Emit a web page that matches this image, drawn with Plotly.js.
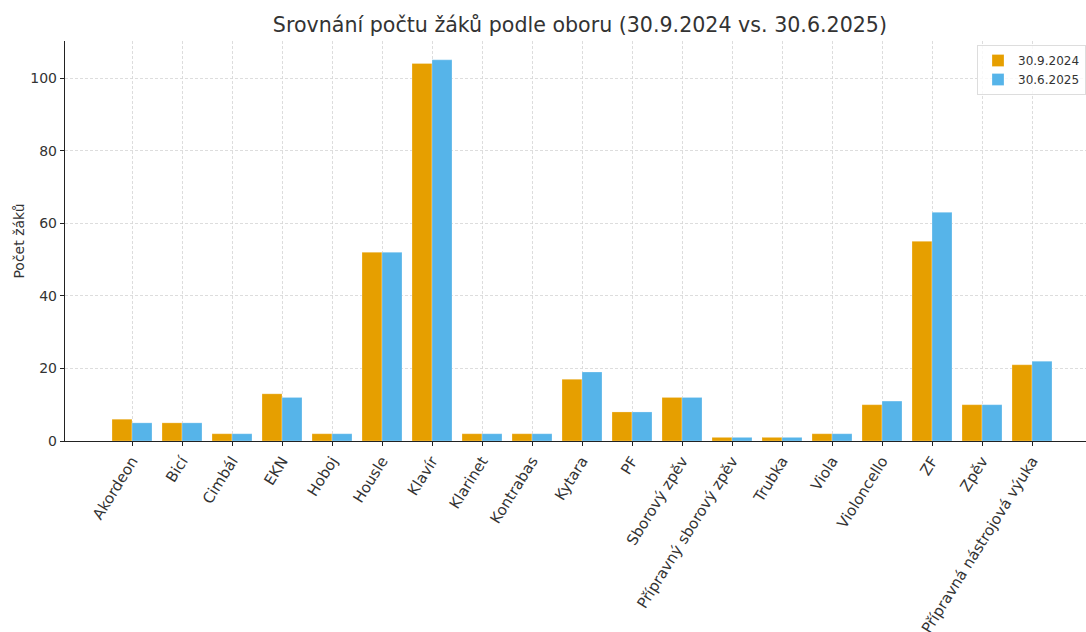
<!DOCTYPE html>
<html>
<head>
<meta charset="utf-8">
<script src="https://cdn.plot.ly/plotly-3.0.1.min.js"></script>
<style>html,body{margin:0;padding:0;background:#fff;}#chart{width:1086px;height:632px;}</style>
</head>
<body>
<div id="chart"></div>
<script>
const categories = ["Akordeon","Bicí","Cimbál","EKN","Hoboj","Housle","Klavír","Klarinet","Kontrabas","Kytara","PF","Sborový zpěv","Přípravný sborový zpěv","Trubka","Viola","Violoncello","ZF","Zpěv","Přípravná nástrojová výuka"];
const values2024 = [6,5,2,13,2,52,104,2,2,17,8,12,1,1,2,10,55,10,21];
const values2025 = [5,5,2,12,2,52,105,2,2,19,8,12,1,1,2,11,63,10,22];
const seriesNames = ["30.9.2024","30.6.2025"];
const yTicks = [0,20,40,60,80,100];

const idx = categories.map((_, i) => i);
const font = "DejaVu Sans, sans-serif";

const traces = [
  {type:"bar", x: idx, y: values2024, name: seriesNames[0], marker:{color:"#E69F00", line:{color:"rgba(255,255,255,0.5)", width:0.5}}},
  {type:"bar", x: idx, y: values2025, name: seriesNames[1], marker:{color:"#56B4E9", line:{color:"rgba(255,255,255,0.5)", width:0.5}}}
];

const layout = {
  width:1086, height:632,
  margin:{l:65, r:0, t:41, b:191},
  paper_bgcolor:"#fff", plot_bgcolor:"#fff",
  font:{family:font, color:"#333", size:14},
  title:{text:"Srovnání počtu žáků podle oboru (30.9.2024 vs. 30.6.2025)", font:{size:20.6, color:"#333", family:font}, x:0.534, xanchor:"center", y:0.96, yanchor:"middle"},
  barmode:"group", bargap:0.2, bargroupgap:0,
  showlegend:true,
  legend:{x:1, xanchor:"right", y:0.99, yanchor:"top", bgcolor:"rgba(255,255,255,0.8)", bordercolor:"#ddd", borderwidth:1, font:{size:12, color:"#333", family:font}, tracegroupgap:0},
  xaxis:{
    range:[-1.34, 19.08], tickmode:"array", tickvals: idx, ticktext: categories,
    tickangle:-58, showgrid:true, gridcolor:"#d4d4d4", griddash:"3px,2px", gridwidth:0.8,
    showline:true, linecolor:"#222", linewidth:1.2, ticks:"outside", ticklen:4, tickcolor:"#222",
    tickfont:{size:15, color:"#333", family:font}, zeroline:false, automargin:false
  },
  yaxis:{
    range:[0, 110.2], tickmode:"array", tickvals: yTicks, ticktext: yTicks.map(String),
    showgrid:true, gridcolor:"#d4d4d4", griddash:"3px,2px", gridwidth:0.8,
    showline:true, linecolor:"#222", linewidth:1.2, ticks:"outside", ticklen:4, tickcolor:"#222",
    tickfont:{size:14, color:"#333", family:font}, zeroline:false, automargin:false,
    title:{text:"Počet žáků", font:{size:14, color:"#333", family:font}, standoff:2}
  }
};

Plotly.newPlot("chart", traces, layout, {displayModeBar:false, staticPlot:true});
</script>
</body>
</html>
